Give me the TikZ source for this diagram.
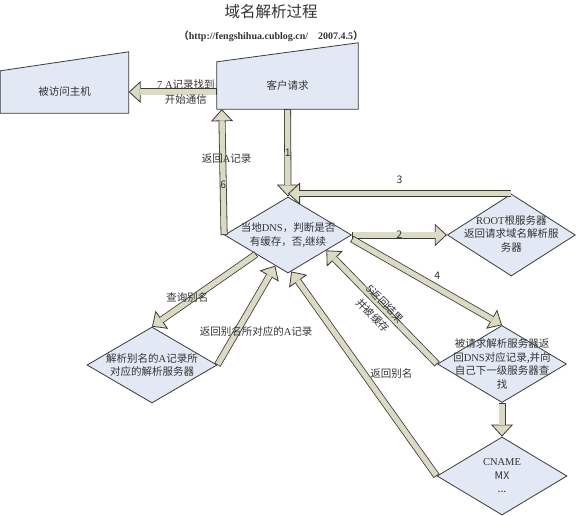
\documentclass[tikz,border=0pt]{standalone}
\usepackage{fontspec}
\setmainfont{Liberation Serif}
\newfontfamily\cjk{Noto Sans CJK SC}
\usepackage{tikz}
\usepackage{xcolor}
\usetikzlibrary{positioning, arrows.meta, calc, shapes.geometric, backgrounds}
\definecolor{boxfill}{HTML}{E2E9F5}
\definecolor{edge}{HTML}{3A3A3A}
\definecolor{shaft}{HTML}{DBDAC2}
\definecolor{textmain}{HTML}{333333}

\begin{document}
\begin{tikzpicture}[
    x=1pt, y=1pt,
    box/.style={inner sep=0pt, minimum width=141pt, minimum height=47pt,
                font=\cjk\fontsize{10.5}{14}\selectfont, text=textmain},
    boxline/.style={draw=edge, fill=boxfill, line width=0.8pt},
    decision/.style={diamond, draw=edge, fill=boxfill, line width=0.8pt, inner sep=0pt,
                     minimum width=129pt, minimum height=77pt},
    dtext/.style={font=\cjk\fontsize{10.5}{13.5}\selectfont, text=textmain, align=center, inner sep=0pt},
    flow/.style={draw=edge, line width=7pt,
                 -{Triangle[width=22pt, length=12pt, fill=shaft, line width=0.8pt]},
                 postaction={draw=shaft, line width=5.4pt, -, shorten >=11.2pt, shorten <=0.8pt}},
    role/.style={font=\cjk\fontsize{10.5}{15}\selectfont, text=textmain, inner sep=1pt, align=center}
  ]
    \useasboundingbox (0,0) rectangle (577,515);

    \node[font=\cjk\fontsize{15.5}{18}\selectfont, text=textmain] (title) at (271,503) {域名解析过程};
    \node[font=\fontsize{10}{11}\selectfont\bfseries, text=textmain, below=5pt of title] (sub)
      {{\cjk （}http://fengshihua.cublog.cn/\quad 2007.4.5{\cjk ）}};

    \node[box, minimum width=128pt, minimum height=42pt] (host) at (64.5,423) {被访问主机};
    \node[box] (client) at (287.5,429.5) {客户请求};
    \begin{scope}[on background layer]
      \draw[boxline] (host.south west) -- (host.south east) -- ([yshift=19pt]host.north east)
        -- (host.north west) -- cycle;
      \draw[boxline] (client.south west) -- (client.south east) -- ([yshift=19pt]client.north east)
        -- (client.north west) -- cycle;
    \end{scope}

    \node[decision, minimum width=127pt, minimum height=76pt,
          label={[dtext]center:{当地{\rmfamily DNS}，判断是否\\有缓存，否,继续}}] (dns) at (288,280) {};
    \node[decision, minimum width=128pt, minimum height=82pt, right=95pt of dns,
          label={[dtext, yshift=1pt]center:{{\rmfamily ROOT}根服务器\\返回请求域名解析服\\务器}}] (root) {};
    \node[decision,
          label={[dtext]center:{被请求解析服务器返\\回{\rmfamily DNS}对应记录,并向\\自己下一级服务器查\\找}}] (req) at (502,151) {};
    \node[decision, minimum width=130pt, minimum height=78pt,
          label={[dtext]center:{\rmfamily CNAME\\MX\\...}}] (cname) at (502,39) {};
    \node[decision, minimum width=130pt, minimum height=76pt,
          label={[dtext]center:{解析别名的{\rmfamily A}记录所\\对应的解析服务器}}] (alias) at (152,150) {};

    % main query path
    \draw[flow] (client.south) -- node[role, pos=0.5]{1} (dns.north);
    \draw[flow] (dns.east) -- node[role, pos=0.5]{2} (root.west);
    \draw[flow] (root.north) -- node[role, above=5pt, pos=0.5]{3} (root.north -| dns.north);
    \draw[flow] ([yshift=-4pt]dns.east) -- node[role, pos=0.52, above right=0pt]{4} (req.north);
    \draw[flow] (req.west) -- node[role, font=\cjk\fontsize{10.5}{17}\selectfont, sloped, pos=0.5, yshift=-3.5pt]{5返回结果\\并被缓存}
      ($(dns.east)!0.4!(dns.south)$);
    \draw[flow] (dns.west) -- node[role, pos=0.4]{6}
      node[role, pos=0.61, xshift=4pt]{返回{\rmfamily A}记录} ([xshift=5pt]client.south west);
    \draw[flow] (client.west |- host.east) -- node[role, pos=0.35]{{\rmfamily 7 A}记录找到\\开始通信} (host.east);

    % alias lookup
    \draw[flow] (req.south) -- (cname.north);
    \draw[flow] (cname.west) -- node[role, pos=0.5, anchor=west, xshift=2pt]{返回别名}
      ($(dns.south)!0.05!(dns.east)$);
    \draw[flow] ($(dns.west)!0.5!(dns.south)$) -- node[role, pos=0.66, yshift=4pt]{查询别名} (alias.north);
    \draw[flow] (alias.east) -- node[role, pos=0.34, xshift=19pt]{返回别名所对应的{\rmfamily A}记录}
      ($(dns.south)!0.2!(dns.west)$);
  \end{tikzpicture}
\end{document}
